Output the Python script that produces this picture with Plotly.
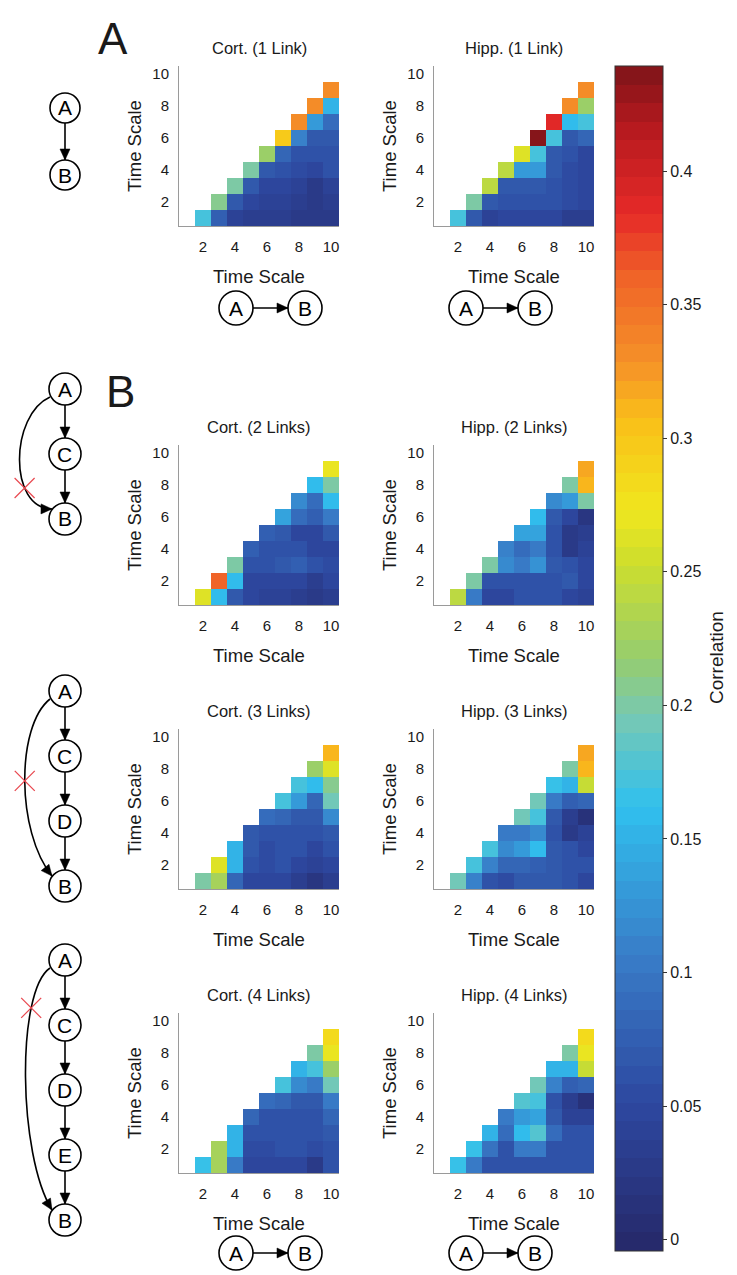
import plotly.graph_objects as go
import numpy as np

W, H = 737, 1275
def px(x): return x / W
def py(y): return 1 - y / H

# ---------------- data: rows y=1..9, values for x=y+1..10 ----------------
cort1 = [
    [0.17, 0.075, 0.04, 0.035, 0.035, 0.035, 0.03, 0.025, 0.03],
    [0.21, 0.07, 0.045, 0.04, 0.04, 0.035, 0.03, 0.035],
    [0.20, 0.07, 0.05, 0.05, 0.04, 0.025, 0.04],
    [0.20, 0.07, 0.06, 0.055, 0.05, 0.06],
    [0.22, 0.08, 0.06, 0.06, 0.065],
    [0.30, 0.11, 0.07, 0.07],
    [0.335, 0.13, 0.09],
    [0.335, 0.155],
    [0.33],
]
hipp1 = [
    [0.17, 0.07, 0.04, 0.045, 0.05, 0.045, 0.045, 0.035, 0.035],
    [0.20, 0.07, 0.065, 0.065, 0.065, 0.06, 0.055, 0.05],
    [0.24, 0.07, 0.07, 0.07, 0.065, 0.055, 0.05],
    [0.24, 0.13, 0.13, 0.07, 0.055, 0.05],
    [0.26, 0.17, 0.07, 0.06, 0.045],
    [0.435, 0.17, 0.07, 0.08],
    [0.39, 0.16, 0.17],
    [0.335, 0.22],
    [0.33],
]
cort2 = [
    [0.26, 0.16, 0.07, 0.05, 0.04, 0.04, 0.035, 0.03, 0.035],
    [0.36, 0.16, 0.045, 0.045, 0.045, 0.045, 0.035, 0.05],
    [0.20, 0.065, 0.065, 0.07, 0.075, 0.06, 0.055],
    [0.075, 0.065, 0.065, 0.06, 0.045, 0.045],
    [0.075, 0.07, 0.05, 0.045, 0.07],
    [0.14, 0.09, 0.075, 0.10],
    [0.12, 0.09, 0.16],
    [0.16, 0.20],
    [0.27],
]
hipp2 = [
    [0.24, 0.10, 0.05, 0.045, 0.06, 0.06, 0.06, 0.05, 0.04],
    [0.20, 0.065, 0.065, 0.065, 0.065, 0.06, 0.07, 0.05],
    [0.20, 0.115, 0.10, 0.125, 0.07, 0.065, 0.05],
    [0.11, 0.09, 0.10, 0.06, 0.03, 0.04],
    [0.135, 0.135, 0.06, 0.03, 0.035],
    [0.16, 0.07, 0.05, 0.02],
    [0.115, 0.13, 0.20],
    [0.20, 0.31],
    [0.32],
]
cort3 = [
    [0.20, 0.225, 0.085, 0.05, 0.045, 0.05, 0.035, 0.02, 0.035],
    [0.26, 0.155, 0.06, 0.055, 0.06, 0.05, 0.04, 0.05],
    [0.155, 0.07, 0.055, 0.06, 0.06, 0.05, 0.06],
    [0.07, 0.065, 0.06, 0.065, 0.06, 0.07],
    [0.09, 0.085, 0.07, 0.07, 0.12],
    [0.17, 0.13, 0.085, 0.19],
    [0.17, 0.16, 0.21],
    [0.22, 0.26],
    [0.31],
]
hipp3 = [
    [0.19, 0.11, 0.065, 0.055, 0.07, 0.07, 0.07, 0.06, 0.05],
    [0.17, 0.11, 0.085, 0.08, 0.075, 0.07, 0.065, 0.06],
    [0.17, 0.12, 0.13, 0.16, 0.07, 0.06, 0.05],
    [0.10, 0.10, 0.115, 0.065, 0.03, 0.04],
    [0.19, 0.17, 0.07, 0.035, 0.01],
    [0.19, 0.10, 0.075, 0.08],
    [0.165, 0.155, 0.25],
    [0.20, 0.31],
    [0.32],
]
cort4 = [
    [0.165, 0.225, 0.10, 0.05, 0.045, 0.05, 0.05, 0.03, 0.06],
    [0.225, 0.155, 0.055, 0.055, 0.06, 0.06, 0.055, 0.06],
    [0.155, 0.06, 0.06, 0.06, 0.065, 0.06, 0.07],
    [0.085, 0.065, 0.065, 0.065, 0.065, 0.08],
    [0.09, 0.085, 0.07, 0.07, 0.10],
    [0.17, 0.12, 0.10, 0.19],
    [0.155, 0.17, 0.22],
    [0.20, 0.27],
    [0.28],
]
hipp4 = [
    [0.165, 0.10, 0.06, 0.065, 0.065, 0.065, 0.065, 0.06, 0.06],
    [0.165, 0.095, 0.065, 0.10, 0.10, 0.065, 0.06, 0.06],
    [0.155, 0.09, 0.16, 0.18, 0.09, 0.06, 0.06],
    [0.10, 0.13, 0.14, 0.07, 0.04, 0.04],
    [0.18, 0.17, 0.06, 0.035, 0.01],
    [0.19, 0.11, 0.075, 0.08],
    [0.155, 0.155, 0.25],
    [0.20, 0.27],
    [0.28],
]
titles = ["Cort. (1 Link)", "Hipp. (1 Link)", "Cort. (2 Links)", "Hipp. (2 Links)",
          "Cort. (3 Links)", "Hipp. (3 Links)", "Cort. (4 Links)", "Hipp. (4 Links)"]
scales = list(range(1, 11))
tick_vals = [2, 4, 6, 8, 10]
cbar_ticks = [0, 0.05, 0.1, 0.15, 0.2, 0.25, 0.3, 0.35, 0.4]
cbar_text = ["0", "0.05", "0.1", "0.15", "0.2", "0.25", "0.3", "0.35", "0.4"]
zmin, zmax = -0.0042, 0.4393

# ---------------- colormap (muted jet, 64 steps) ----------------
anchors = [
    (0.0, (38, 40, 105)), (0.125, (45, 72, 160)), (0.25, (57, 125, 200)),
    (0.375, (48, 192, 238)), (0.45, (118, 200, 180)), (0.5, (150, 205, 110)),
    (0.58, (205, 222, 45)), (0.625, (240, 230, 30)), (0.7, (250, 192, 25)),
    (0.75, (245, 145, 40)), (0.82, (240, 100, 40)), (0.875, (230, 42, 40)),
    (0.95, (180, 25, 30)), (1.0, (125, 20, 25)),
]
af = [a[0] for a in anchors]
def cmap(f):
    return tuple(int(round(np.interp(f, af, [a[1][k] for a in anchors]))) for k in range(3))
N = 64
colorscale = []
for i in range(N):
    s = "rgb(%d,%d,%d)" % cmap((i + 0.5) / N)
    colorscale.append([i / N, s])
    colorscale.append([(i + 1) / N, s])

def to_matrix(rows):
    z = [[None] * 10 for _ in range(10)]
    for yi, row in enumerate(rows):
        y = yi + 1
        for k, v in enumerate(row):
            z[y - 1][y + k] = v
    return z

datasets = [cort1, hipp1, cort2, hipp2, cort3, hipp3, cort4, hipp4]

# plot rectangles (pixels)
col_x = [(171, 331), (426, 586)]
row_y = [(58, 218), (437, 597), (721, 881), (1005, 1165)]

fig = go.Figure()
shapes = []
annotations = []
layout_axes = {}
FONT = "Liberation Sans, Arial, sans-serif"
TXT = "#1a1a1a"

def text(x, y, t, size, angle=0, color=TXT):
    annotations.append(dict(x=px(x), y=py(y), text=t, showarrow=False, textangle=angle,
                            xref="paper", yref="paper", xanchor="center", yanchor="middle",
                            font=dict(size=size, color=color, family=FONT)))

for i, data in enumerate(datasets):
    r, c = divmod(i, 2)
    x0, x1 = col_x[c]
    y0, y1 = row_y[r]
    n = i + 1
    xa = "x" if n == 1 else "x%d" % n
    ya = "y" if n == 1 else "y%d" % n
    fig.add_trace(go.Heatmap(z=to_matrix(data), x=scales, y=scales, coloraxis="coloraxis",
                             xaxis=xa, yaxis=ya, hoverongaps=False))
    axcommon = dict(range=[0.5, 10.5], tickvals=tick_vals, showgrid=False, zeroline=False,
                    showline=True, linecolor="#9a9a9a", linewidth=1, ticks="outside",
                    tickcolor="rgba(0,0,0,0)",
                    tickfont=dict(size=15, color=TXT, family=FONT))
    layout_axes["xaxis" if n == 1 else "xaxis%d" % n] = dict(
        axcommon, ticklen=7, domain=[px(x0), px(x1)], anchor=ya)
    layout_axes["yaxis" if n == 1 else "yaxis%d" % n] = dict(
        axcommon, ticklen=6, domain=[py(y1), py(y0)], anchor=xa)
    cx = (x0 + x1) / 2
    text(cx, y0 - 18, titles[i], 16.5)
    text(cx, y1 + 50, "Time Scale", 18.5)
    text(x0 - 45, (y0 + y1) / 2, "Time Scale", 18.5, angle=-90)

# ---------------- diagrams ----------------
LW = 1.6
def circle(cx, cy, r=16):
    shapes.append(dict(type="circle", xref="paper", yref="paper", x0=px(cx - r), x1=px(cx + r),
                       y0=py(cy + r), y1=py(cy - r), line=dict(color="black", width=LW), fillcolor="white"))

def head(tx, ty, dx, dy, L=11, hw=5):
    n = np.hypot(dx, dy); dx, dy = dx / n, dy / n
    bx, by = tx - dx * L, ty - dy * L
    p1 = (bx - dy * hw, by + dx * hw); p2 = (bx + dy * hw, by - dx * hw)
    path = "M %f,%f L %f,%f L %f,%f Z" % (px(tx), py(ty), px(p1[0]), py(p1[1]), px(p2[0]), py(p2[1]))
    shapes.append(dict(type="path", xref="paper", yref="paper", path=path,
                       fillcolor="black", line=dict(color="black", width=0.5)))

def arrow(xa_, ya_, xb, yb):
    shapes.append(dict(type="line", xref="paper", yref="paper", x0=px(xa_), y0=py(ya_), x1=px(xb), y1=py(yb),
                       line=dict(color="black", width=LW)))
    head(xb, yb, xb - xa_, yb - ya_)

def bez(p0, c1, c2, p3, t):
    return tuple((1 - t) ** 3 * p0[k] + 3 * (1 - t) ** 2 * t * c1[k] + 3 * (1 - t) * t ** 2 * c2[k] + t ** 3 * p3[k]
                 for k in range(2))

def curve(p0, c1, c2, p3):
    path = "M %f,%f C %f,%f %f,%f %f,%f" % (px(p0[0]), py(p0[1]), px(c1[0]), py(c1[1]),
                                             px(c2[0]), py(c2[1]), px(p3[0]), py(p3[1]))
    shapes.append(dict(type="path", xref="paper", yref="paper", path=path, line=dict(color="black", width=LW)))
    head(p3[0], p3[1], p3[0] - c2[0], p3[1] - c2[1])

def red_x(cx, cy, s=10):
    for a, b in [((cx - s, cy - s), (cx + s, cy + s)), ((cx - s, cy + s), (cx + s, cy - s))]:
        shapes.append(dict(type="line", xref="paper", yref="paper", x0=px(a[0]), y0=py(a[1]),
                           x1=px(b[0]), y1=py(b[1]), line=dict(color="#e8454d", width=1.2)))

def vchain(cx, ys, names, r=16):
    for k in range(len(ys) - 1):
        arrow(cx, ys[k] + r, cx, ys[k + 1] - r)
    for y, nm in zip(ys, names):
        circle(cx, y, r)
        text(cx, y, nm, 21, color="black")

def hpair(cxa, cxb, cy, r=17):
    arrow(cxa + r, cy, cxb - r, cy)
    circle(cxa, cy, r); text(cxa, cy, "A", 21, color="black")
    circle(cxb, cy, r); text(cxb, cy, "B", 21, color="black")

# panel A vertical
vchain(57, [100, 167], ["A", "B"], r=15)
# horizontal A->B under rows 1 and 4
for cxa in (228, 458):
    hpair(cxa, cxa + 69, 300)
    hpair(cxa, cxa + 69, 1245)

# panel B chains with skipped link: (node ys, names, c1, c2 offsets, X position t)
chains = [
    ([381, 446, 511], ["A", "C", "B"], (2, 0.2), (0, 0.92), 0.7),
    ([683, 748, 813, 878], ["A", "C", "D", "B"], (8, 0.18), (8, 0.72), 0.5),
    ([952, 1017, 1082, 1147, 1212], ["A", "C", "D", "E", "B"], (8, 0.12), (10, 0.75), 0.25),
]
for ys, names, c1o, c2o, tx in chains:
    top, bot = ys[0], ys[-1]
    span = bot - top
    p0 = (42, top + 8)
    c1 = (c1o[0], top + span * c1o[1])
    c2 = (c2o[0], top + span * c2o[1])
    p3 = (44, bot - 10)
    curve(p0, c1, c2, p3)
    vchain(57, ys, names)
    xx, yy = bez(p0, c1, c2, p3, tx)
    red_x(xx, yy)

# big panel letters
text(105, 30, "A", 44)
text(112, 384, "B", 44)
# colorbar title
text(708, 650, "Correlation", 19, angle=-90)

fig.update_layout(
    width=W, height=H, margin=dict(l=0, r=0, t=0, b=0),
    paper_bgcolor="white", plot_bgcolor="white", showlegend=False,
    coloraxis=dict(colorscale=colorscale, cmin=zmin, cmax=zmax,
                   colorbar=dict(x=px(607), xanchor="left", y=py(58), yanchor="top",
                                 len=1185, lenmode="pixels", thickness=48, thicknessmode="pixels",
                                 outlinewidth=1, outlinecolor="#333", tickvals=cbar_ticks, ticktext=cbar_text,
                                 ticks="outside", ticklen=4, tickcolor="#333",
                                 tickfont=dict(size=16, color=TXT, family=FONT), xpad=0, ypad=0)),
    shapes=shapes, annotations=annotations, **layout_axes,
)
fig.write_html("out.html")
